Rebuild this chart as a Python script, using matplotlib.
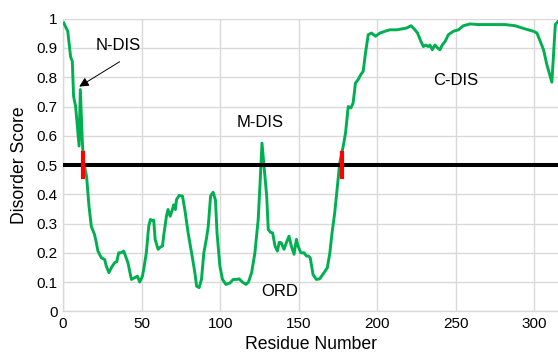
import numpy as np
import matplotlib.pyplot as plt

plt.rcParams['font.family'] = ['Liberation Sans', 'DejaVu Sans']

# disorder profile
residue = [0.5, 3, 4.8, 5.9, 6.7, 8, 9.7, 10.2, 11, 12.2, 13, 14.3, 15, 16.5, 18, 20, 21.2,
           22.2, 24.4, 26.5, 27.5, 29.2, 30.7, 32.8, 34.2, 35.4, 37, 38.6, 39.8, 41.3,
           43.5, 45.6, 47.3, 48.8, 50.5, 51.3, 53, 54.5, 55.6, 57, 57.7, 58.6, 60.5, 62,
           63.3, 64, 65.8, 66.8, 68.2, 69.6, 70.4, 71.5, 72.2, 73.9, 76, 77.5, 79.6, 81.8,
           83.9, 85, 86.6, 88.1, 89.6, 91.3, 92.4, 93.9, 95.5, 97, 98, 99.8, 101.5, 103.6,
           106.2, 108.3, 110.4, 112, 114.2, 116.4, 118, 120, 122.1, 124.2, 125.3, 126.6,
           127.9, 129.6, 130.6, 132, 133.4, 134.9, 136.4, 137.6, 138.9, 140.6, 142.1,
           143.8, 145.3, 147, 148.5, 149.6, 151.3, 153.4, 154.9, 156.3, 157.3, 159.1,
           161.2, 163.3, 166.1, 168.2, 169.8, 171.2, 172.9, 174.6, 176.1, 178.3, 179.8,
           181.5, 183.2, 184.6, 186.1, 187.8, 189.5, 191, 192.5, 194.2, 196.3, 198.9,
           201.7, 204.8, 208, 212.3, 215.4, 218.6, 221.4, 223.5, 225.6, 227.8, 229.3,
           230.8, 232.4, 233.5, 235, 236.7, 238.4, 239.9, 241.4, 243.1, 245.2, 248.4,
           251.6, 254.8, 259, 264.4, 272.9, 281.4, 287.7, 294.1, 299.4, 301.6, 303.7,
           305.8, 307.9, 309.4, 311.1, 312.2, 313.3, 315]
score = [0.985, 0.957, 0.87, 0.854, 0.735, 0.70, 0.598, 0.565, 0.758, 0.587, 0.51, 0.479,
         0.46, 0.36, 0.29, 0.263, 0.234, 0.206, 0.183, 0.177, 0.155, 0.132, 0.149, 0.166,
         0.17, 0.20, 0.20, 0.206, 0.188, 0.166, 0.109, 0.115, 0.12, 0.10, 0.12, 0.143,
         0.20, 0.29, 0.314, 0.31, 0.312, 0.246, 0.212, 0.22, 0.223, 0.257, 0.325, 0.348,
         0.325, 0.348, 0.364, 0.348, 0.382, 0.396, 0.394, 0.348, 0.268, 0.20, 0.132,
         0.086, 0.081, 0.109, 0.20, 0.25, 0.29, 0.394, 0.407, 0.38, 0.268, 0.155, 0.109,
         0.092, 0.097, 0.109, 0.109, 0.111, 0.10, 0.092, 0.10, 0.132, 0.20, 0.314, 0.428,
         0.575, 0.496, 0.394, 0.28, 0.27, 0.268, 0.223, 0.206, 0.236, 0.234, 0.212, 0.234,
         0.257, 0.223, 0.195, 0.246, 0.223, 0.20, 0.20, 0.189, 0.189, 0.183, 0.126, 0.109,
         0.111, 0.132, 0.149, 0.20, 0.268, 0.337, 0.428, 0.507, 0.564, 0.61, 0.70, 0.695,
         0.712, 0.78, 0.792, 0.809, 0.82, 0.883, 0.945, 0.951, 0.94, 0.951, 0.957, 0.962,
         0.962, 0.965, 0.968, 0.976, 0.965, 0.951, 0.922, 0.905, 0.91, 0.905, 0.91, 0.894,
         0.91, 0.90, 0.894, 0.911, 0.922, 0.945, 0.957, 0.962, 0.976, 0.982, 0.98, 0.98,
         0.98, 0.976, 0.965, 0.957, 0.951, 0.922, 0.894, 0.843, 0.815, 0.783, 0.883,
         0.98, 0.99]

threshold = 0.5
boundaries = [12.5, 177.8]
labels = ['N-DIS', 'M-DIS', 'C-DIS', 'ORD']
label_pos = [(35, 0.908), (125.5, 0.645), (250, 0.79), (138, 0.068)]


def main():
    fig = plt.figure(figsize=(5.58, 3.53), dpi=100)
    ax = fig.add_axes([0.113, 0.118, 0.887, 0.829])

    ax.plot(residue, score, color='#00b050', lw=2.1, zorder=3)
    ax.axhline(threshold, color='black', lw=2.9, zorder=4)
    for b in boundaries:
        ax.plot([b, b], [0.46, 0.54], color='#ff0000', lw=3, zorder=5)

    for txt, (x, y) in zip(labels, label_pos):
        ax.text(x, y, txt, fontsize=12, ha='center', va='center', zorder=6)
    # arrow pointing at the N-terminal spike
    ax.annotate('', xy=(10.3, 0.768), xytext=(36, 0.853),
                arrowprops=dict(arrowstyle='-|>', color='black', lw=0.7,
                                mutation_scale=14, shrinkA=0, shrinkB=0))

    ax.set_xlim(0, 315)
    ax.set_ylim(0, 1)
    ax.set_xticks([0, 50, 100, 150, 200, 250, 300])
    ax.set_yticks(np.arange(0, 1.01, 0.1))
    ax.set_yticklabels(['0', '0.1', '0.2', '0.3', '0.4', '0.5', '0.6', '0.7', '0.8', '0.9', '1'])
    ax.grid(True, color='#d9d9d9', lw=1)
    ax.set_axisbelow(True)
    for s in ['top', 'right']:
        ax.spines[s].set_visible(False)
    for s in ['left', 'bottom']:
        ax.spines[s].set_color('#d9d9d9')
        ax.spines[s].set_linewidth(1)
    ax.tick_params(length=0, labelsize=11, pad=4)
    ax.set_xlabel('Residue Number', fontsize=12.7, labelpad=4)
    ax.set_ylabel('Disorder Score', fontsize=12.7, labelpad=6)

    fig.savefig('out.png', dpi=100)


if __name__ == '__main__':
    main()
